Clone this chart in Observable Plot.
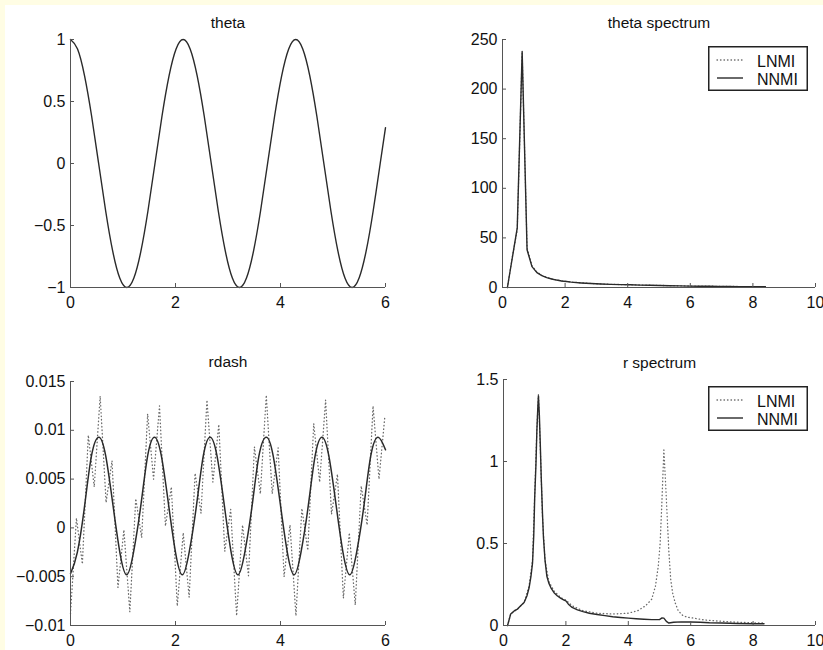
<!DOCTYPE html>
<html><head><meta charset="utf-8">
<script src="https://cdn.jsdelivr.net/npm/d3@7"></script>
<script src="https://cdn.jsdelivr.net/npm/@observablehq/plot@0.6"></script>
<style>
html,body{margin:0;padding:0;background:#fffde4;}
#page{position:relative;width:823px;height:650px;overflow:hidden;background:#fffde4;font-family:"Liberation Sans",Arial,sans-serif;}
#sheet{position:absolute;left:5px;top:5px;width:818px;height:645px;background:#fff;}
.panel{position:absolute;}
.legend{position:absolute;}
</style></head><body>
<div id="page"><div id="sheet"></div></div>
<script>
// ---------- data ----------
// theta (top-left)
const thetaX = [0,0.134,0.268,0.402,0.536,0.670,0.804,0.938,1.073,1.207,1.341,1.475,1.609,1.743,1.877,2.011,2.145,2.279,2.413,2.547,2.681,2.815,2.949,3.083,3.218,3.352,3.486,3.620,3.754,3.888,4.022,4.156,4.290,4.424,4.558,4.692,4.826,4.960,5.094,5.228,5.363,5.497,5.631,5.765,5.899,6.0];
const thetaY = [1,0.924,0.707,0.383,0,-0.383,-0.707,-0.924,-1,-0.924,-0.707,-0.383,0,0.383,0.707,0.924,1,
  0.924,0.707,0.383,0,-0.383,-0.707,-0.924,-1,-0.924,-0.707,-0.383,0,0.383,0.707,0.924,1,
  0.924,0.707,0.383,0,-0.383,-0.707,-0.924,-1,-0.924,-0.707,-0.383,0,0.289];

// theta spectrum (top-right)
const thSpecX = [0.157,0.314,0.471,0.628,0.785,0.942,1.100,1.257,1.414,1.571,1.728,1.885,2.042,2.199,2.513,2.827,3.142,3.456,3.770,4.084,4.398,4.712,5.027,5.341,5.655,5.969,6.283,6.597,6.912,7.226,7.540,7.854,8.168,8.400];
const thSpecNNMI = [0,30,60,238,38,21,15,12,10,8.6,7.5,6.6,6.0,5.4,4.6,4.0,3.5,3.1,2.9,2.7,2.4,2.2,2.0,1.8,1.6,1.4,1.3,1.2,1.1,1.0,0.9,0.8,0.7,0.7];
const thSpecLNMI = [0,31,58,236,40,22,15.5,12.3,10.2,8.8,7.6,6.8,6.1,5.5,4.7,4.1,3.6,3.2,3.0,2.8,2.5,2.3,2.1,1.9,1.7,1.5,1.4,1.3,1.2,1.1,1.0,0.9,0.8,0.8];

// rdash (bottom-left)
const rdashNX = [0.00,0.13,0.27,0.40,0.54,0.67,0.81,0.94,1.07,1.20,1.34,1.47,1.60,1.73,1.87,2.00,2.13,2.26,2.40,2.53,2.66,2.79,2.93,3.06,3.19,3.32,3.46,3.59,3.73,3.86,4.00,4.13,4.26,4.39,4.53,4.66,4.79,4.92,5.06,5.19,5.32,5.45,5.59,5.72,5.86,6.00];
const rdashNY = [-0.0047,-0.0025,0.0023,0.0074,0.0093,0.0074,0.0023,-0.0025,-0.0048,-0.0025,0.0023,0.0074,0.0093,0.0074,0.0023,-0.0025,-0.0048,-0.0025,0.0023,0.0074,0.0093,0.0074,0.0023,-0.0025,-0.0048,-0.0025,0.0023,0.0074,0.0093,0.0074,0.0023,-0.0025,-0.0048,-0.0025,0.0023,0.0074,0.0093,0.0074,0.0023,-0.0025,-0.0048,-0.0025,0.0023,0.0074,0.0093,0.0080];
const rdashLX = [0,0.113,0.226,0.339,0.452,0.565,0.678,0.791,0.904,1.017,1.130,1.243,1.356,1.469,1.582,1.695,1.808,1.921,2.034,2.147,2.260,2.373,2.486,2.599,2.712,2.825,2.938,3.051,3.164,3.277,3.390,3.503,3.616,3.729,3.842,3.955,4.068,4.181,4.294,4.407,4.520,4.633,4.746,4.859,4.972,5.085,5.198,5.311,5.424,5.537,5.650,5.763,5.876,5.989];
const rdashLY = [-0.0088,0.0010,-0.0037,0.0095,0.0042,0.0135,0.0026,0.0069,-0.0061,-0.0002,-0.0086,0.0030,-0.0010,0.0117,0.0050,0.0125,0.0002,0.0042,-0.0080,-0.0005,-0.0071,0.0056,0.0015,0.0131,0.0047,0.0106,-0.0024,0.0019,-0.0090,0.0003,-0.0049,0.0083,0.0035,0.0136,0.0035,0.0082,-0.0050,0.0003,-0.0090,0.0020,-0.0023,0.0107,0.0047,0.0131,0.0014,0.0055,-0.0072,-0.0005,-0.0079,0.0043,0.0003,0.0125,0.0050,0.0115];

// r spectrum (bottom-right)
const rSpecNX = [0.13,0.23,0.35,0.45,0.55,0.66,0.75,0.82,0.88,0.93,0.97,1.00,1.04,1.07,1.10,1.12,1.15,1.18,1.21,1.25,1.28,1.33,1.39,1.45,1.52,1.62,1.73,1.84,1.94,2.00,2.08,2.20,2.37,2.55,2.75,3.00,3.25,3.50,3.75,4.00,4.25,4.50,4.75,5.00,5.08,5.14,5.22,5.30,5.45,5.70,6.00,6.30,6.60,7.00,7.50,8.00,8.35];
const rSpecNY = [0,0.07,0.09,0.10,0.12,0.14,0.18,0.23,0.30,0.38,0.55,0.78,0.98,1.19,1.33,1.40,1.28,1.10,0.90,0.68,0.54,0.40,0.30,0.26,0.23,0.20,0.18,0.165,0.155,0.15,0.13,0.11,0.095,0.085,0.075,0.067,0.06,0.053,0.049,0.045,0.041,0.038,0.036,0.036,0.046,0.045,0.025,0.015,0.02,0.022,0.021,0.02,0.017,0.015,0.012,0.011,0.011];
const rSpecLX = [0.13,0.23,0.45,0.66,0.82,0.93,1.00,1.07,1.12,1.18,1.25,1.33,1.45,1.62,1.84,2.00,2.20,2.55,3.00,3.50,4.00,4.30,4.55,4.75,4.87,4.96,5.02,5.07,5.14,5.20,5.25,5.30,5.36,5.42,5.50,5.60,5.75,5.90,6.10,6.40,6.80,7.30,7.80,8.35];
const rSpecLY = [0,0.07,0.10,0.14,0.24,0.40,0.80,1.20,1.41,1.08,0.66,0.40,0.27,0.21,0.17,0.155,0.12,0.09,0.075,0.07,0.075,0.09,0.12,0.16,0.24,0.36,0.50,0.72,1.07,0.85,0.65,0.45,0.28,0.20,0.14,0.09,0.06,0.05,0.045,0.035,0.028,0.022,0.018,0.015];

// tick values
const thetaXTicks = [0,2,4,6];
const thetaYTicks = [-1,-0.5,0,0.5,1];
const specXTicks = [0,2,4,6,8,10];
const thSpecYTicks = [0,50,100,150,200,250];
const rdashYTicks = [-0.01,-0.005,0,0.005,0.01,0.015];
const rSpecYTicks = [0,0.5,1,1.5];
const seriesNames = ["LNMI","NNMI"];

// ---------- drawing ----------
const FONT = '"Liberation Sans", Arial, sans-serif';
const AX = "#555";
const LINE = "#2a2a2a";
const DOT = "#6a6a6a";
const fmt = d => d < 0 ? "\u2212" + String(-d) : String(d);
const pts = (xs, ys) => xs.map((x, i) => ({x, y: ys[i]}));

function panel(o) {
  const fh = o.height - o.mT - o.mB;
  const fw = o.width - o.mL - o.mR;
  const svg = Plot.plot({
    width: o.width, height: o.height,
    marginLeft: o.mL, marginTop: o.mT, marginRight: o.mR, marginBottom: o.mB,
    style: {background: "transparent", fontFamily: FONT, fontSize: "16px", color: "#111", overflow: "visible"},
    x: {domain: o.xDomain},
    y: {domain: o.yDomain},
    marks: [
      ...o.marks,
      Plot.ruleX([o.xDomain[0]], {stroke: AX, strokeWidth: 1}),
      Plot.ruleY([o.yDomain[0]], {stroke: AX, strokeWidth: 1}),
      Plot.tickX(o.xTicks, {x: d => d, insetTop: fh - 4, stroke: AX}),
      Plot.tickY(o.yTicks, {y: d => d, insetRight: fw - 4, stroke: AX}),
      Plot.axisX({ticks: o.xTicks, tickSize: 0, tickPadding: 9, tickFormat: fmt, label: null, fontSize: 16, fill: "#111"}),
      Plot.axisY({ticks: o.yTicks, tickSize: 0, tickPadding: 5, tickFormat: fmt, label: null, fontSize: 16, fill: "#111"}),
      Plot.text([o.title], {text: d => d, frameAnchor: "top", dy: o.titleDy, lineAnchor: "bottom", fontSize: 15.5, fill: "#111"})
    ]
  });
  svg.classList.add("panel");
  svg.style.left = o.left + "px";
  svg.style.top = o.top + "px";
  document.getElementById("page").appendChild(svg);
}

const solid = (d) => Plot.line(d, {x: "x", y: "y", stroke: LINE, strokeWidth: 1.4});
const dotted = (d) => Plot.line(d, {x: "x", y: "y", stroke: DOT, strokeWidth: 1.3, strokeDasharray: "0.5,3", strokeLinecap: "round"});

panel({left: 0, top: 0, width: 411, height: 320, mL: 70, mT: 39, mR: 26, mB: 33,
  xDomain: [0, 6], yDomain: [-1, 1], xTicks: thetaXTicks, yTicks: thetaYTicks, title: "theta", titleDy: -12,
  marks: [Plot.line(pts(thetaX, thetaY), {x: "x", y: "y", stroke: LINE, strokeWidth: 1.4, curve: "natural"})]});

panel({left: 411, top: 0, width: 412, height: 320, mL: 91, mT: 39, mR: 8, mB: 33,
  xDomain: [0, 10], yDomain: [0, 250], xTicks: specXTicks, yTicks: thSpecYTicks, title: "theta spectrum", titleDy: -12,
  marks: [dotted(pts(thSpecX, thSpecLNMI)), solid(pts(thSpecX, thSpecNNMI))]});

panel({left: 0, top: 320, width: 411, height: 330, mL: 70, mT: 61, mR: 26, mB: 25,
  xDomain: [0, 6], yDomain: [-0.01, 0.015], xTicks: thetaXTicks, yTicks: rdashYTicks, title: "rdash", titleDy: -15,
  marks: [dotted(pts(rdashLX, rdashLY)),
    Plot.line(pts(rdashNX, rdashNY), {x: "x", y: "y", stroke: LINE, strokeWidth: 1.5, curve: "natural"})]});

panel({left: 411, top: 320, width: 412, height: 330, mL: 92, mT: 59, mR: 8, mB: 25,
  xDomain: [0, 10], yDomain: [0, 1.5], xTicks: specXTicks, yTicks: rSpecYTicks, title: "r spectrum", titleDy: -12,
  marks: [dotted(pts(rSpecLX, rSpecLY)), solid(pts(rSpecNX, rSpecNY))]});

// ---------- legends (HTML overlays) ----------
function legend(left, top) {
  const ns = "http://www.w3.org/2000/svg";
  const s = document.createElementNS(ns, "svg");
  s.setAttribute("width", 100); s.setAttribute("height", 45);
  s.setAttribute("class", "legend");
  s.style.left = left + "px"; s.style.top = top + "px";
  s.innerHTML =
    `<rect x="0.75" y="0.75" width="98.5" height="43.5" fill="#fff" stroke="#222" stroke-width="1.5"/>` +
    `<line x1="9" x2="35" y1="14" y2="14" stroke="${DOT}" stroke-width="1.3" stroke-dasharray="0.5,3" stroke-linecap="round"/>` +
    `<line x1="9" x2="35" y1="32" y2="32" stroke="${LINE}" stroke-width="1.4"/>` +
    `<text x="49" y="20.5" font-family='${FONT}' font-size="16" fill="#111">${seriesNames[0]}</text>` +
    `<text x="49" y="39" font-family='${FONT}' font-size="16" fill="#111">${seriesNames[1]}</text>`;
  document.getElementById("page").appendChild(s);
}
legend(708, 46);
legend(708, 386);
</script>
</body></html>
